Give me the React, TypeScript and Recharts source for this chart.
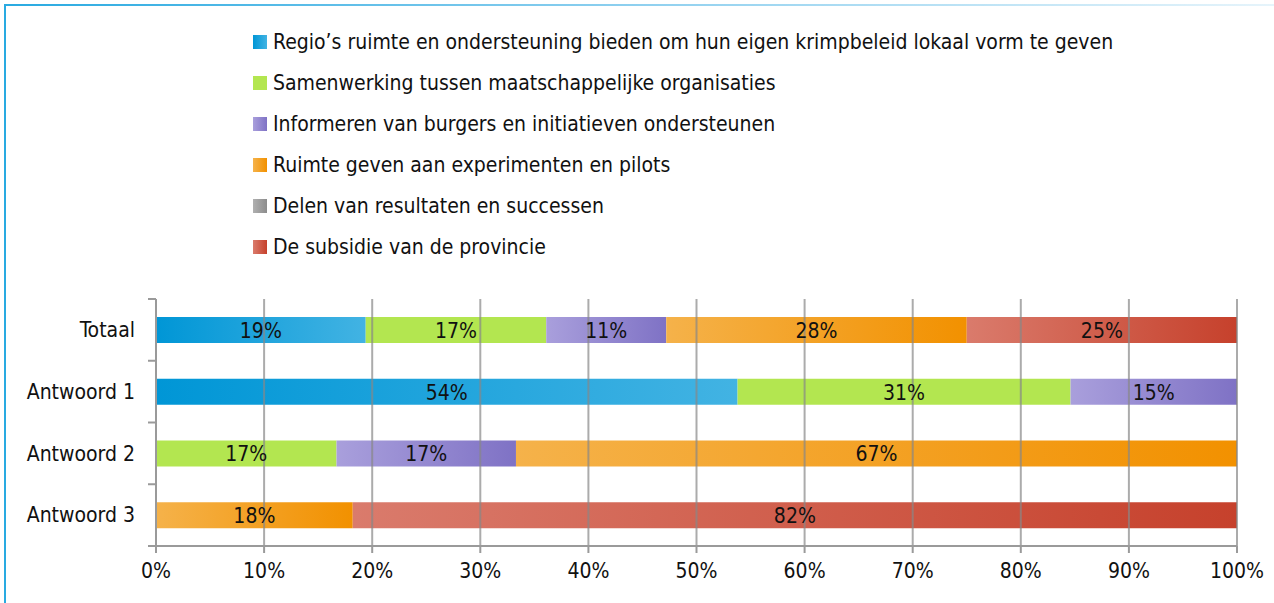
import React from "react";
import { BarChart, Bar, XAxis, YAxis, LabelList, ReferenceLine } from "recharts";

const categories = ["Totaal", "Antwoord 1", "Antwoord 2", "Antwoord 3"];
const seriesNames = [
  "Regio\u2019s ruimte en ondersteuning bieden om hun eigen krimpbeleid lokaal vorm te geven",
  "Samenwerking tussen maatschappelijke organisaties",
  "Informeren van burgers en initiatieven ondersteunen",
  "Ruimte geven aan experimenten en pilots",
  "Delen van resultaten en successen",
  "De subsidie van de provincie",
];
const regio = [19.4, 53.8, 0, 0];
const samenwerking = [16.7, 30.8, 16.7, 0];
const informeren = [11.1, 15.4, 16.6, 0];
const ruimte = [27.8, 0, 66.7, 18.2];
const delen = [0, 0, 0, 0];
const subsidie = [25.0, 0, 0, 81.8];
const xTicks = [0, 10, 20, 30, 40, 50, 60, 70, 80, 90, 100];

const seriesValues = [regio, samenwerking, informeren, ruimte, delen, subsidie];
const gradients: [string, string][] = [
  ["#0096d6", "#42b3e3"],
  ["#b3e650", "#b3e650"],
  ["#a99fdc", "#7f72c5"],
  ["#f5b24a", "#f29100"],
  ["#b0b0b0", "#8c8c8c"],
  ["#da7b6c", "#c6412c"],
];

const keys = ["s0", "s1", "s2", "s3", "s4", "s5"];
const data = categories.map((name, i) => {
  const row: Record<string, any> = { name };
  keys.forEach((k, j) => (row[k] = seriesValues[j][i]));
  return row;
});

const FONT = "'Liberation Sans Narrow', 'DejaVu Sans Condensed', 'Roboto Condensed', 'Arial Narrow', sans-serif";
const W = 1274;
const H = 603;
const M_TOP = 299;
const M_BOTTOM = 57;
const Y_W = 156;
const M_RIGHT = 37;
const BAND = (H - M_TOP - M_BOTTOM) / categories.length;
const GRID = "#9a9a9a";

const YTick = (props: any) => {
  const { x, y, payload, index } = props;
  const ax = x + 15;
  const last = index === categories.length - 1;
  return (
    <g>
      <line x1={ax - 8} x2={ax} y1={y - BAND / 2} y2={y - BAND / 2} stroke={GRID} strokeWidth={2} />
      {last && <line x1={ax - 8} x2={ax} y1={y + BAND / 2} y2={y + BAND / 2} stroke={GRID} strokeWidth={2} />}
      <text x={x - 6} y={y} dy="0.35em" textAnchor="end" fontSize={21} fill="#111" fontFamily={FONT}>
        {payload.value}
      </text>
    </g>
  );
};

const renderLabel = (props: any) => {
  const { x, y, width, height, value } = props;
  if (!value) return null;
  return (
    <text x={x + width / 2} y={y + height / 2} dy="0.38em" textAnchor="middle" fontSize={21} fill="#111" fontFamily={FONT}>
      {Math.round(value)}%
    </text>
  );
};

export default function App() {
  return (
    <div style={{ position: "absolute", left: 0, top: 0, width: W, height: H, background: "#fff", overflow: "hidden" }}>
      <div style={{ position: "absolute", left: 4, top: 4, width: 2, height: H, background: "#29aae1" }} />
      <div
        style={{
          position: "absolute",
          left: 4,
          top: 4,
          width: W - 4,
          height: 2,
          background: "linear-gradient(to right, #29aae1 0%, #8fd0ef 50%, #e6f4fb 100%)",
        }}
      />
      <div style={{ position: "absolute", left: 253, top: 21, fontFamily: FONT, fontSize: 21, color: "#111" }}>
        {seriesNames.map((n, i) => (
          <div key={n} style={{ height: 41, display: "flex", alignItems: "center" }}>
            <span
              style={{
                display: "inline-block",
                width: 14,
                height: 14,
                marginRight: 6,
                background: `linear-gradient(to right, ${gradients[i][0]}, ${gradients[i][1]})`,
              }}
            />
            <span>{n}</span>
          </div>
        ))}
      </div>
      <div style={{ position: "absolute", left: 0, top: 0 }}>
        <BarChart
          width={W}
          height={H}
          data={data}
          layout="vertical"
          margin={{ top: M_TOP, right: M_RIGHT, bottom: 0, left: 0 }}
          barSize={26}
        >
          <defs>
            {gradients.map((g, i) => (
              <linearGradient key={i} id={`g${i}`} x1="0" y1="0" x2="1" y2="0">
                <stop offset="0%" stopColor={g[0]} />
                <stop offset="100%" stopColor={g[1]} />
              </linearGradient>
            ))}
          </defs>
          <XAxis
            type="number"
            domain={[0, 100]}
            ticks={xTicks}
            interval={0}
            height={M_BOTTOM}
            tickFormatter={(v: number) => `${v}%`}
            axisLine={{ stroke: GRID, strokeWidth: 2 }}
            tickLine={{ stroke: GRID, strokeWidth: 2 }}
            tickSize={7}
            tickMargin={10}
            tick={{ fontSize: 21, fill: "#111", fontFamily: FONT }}
          />
          <YAxis
            type="category"
            dataKey="name"
            width={Y_W}
            axisLine={{ stroke: GRID, strokeWidth: 2 }}
            tickLine={false}
            tickSize={8}
            tickMargin={7}
            tick={<YTick />}
          />
          {keys.map((k, i) => (
            <Bar key={k} dataKey={k} stackId="a" fill={`url(#g${i})`} isAnimationActive={false}>
              <LabelList dataKey={k} content={renderLabel} />
            </Bar>
          ))}
          {xTicks.slice(1).map((t) => (
            <ReferenceLine key={t} x={t} stroke="#888" strokeOpacity={0.7} strokeWidth={2} />
          ))}
        </BarChart>
      </div>
    </div>
  );
}
